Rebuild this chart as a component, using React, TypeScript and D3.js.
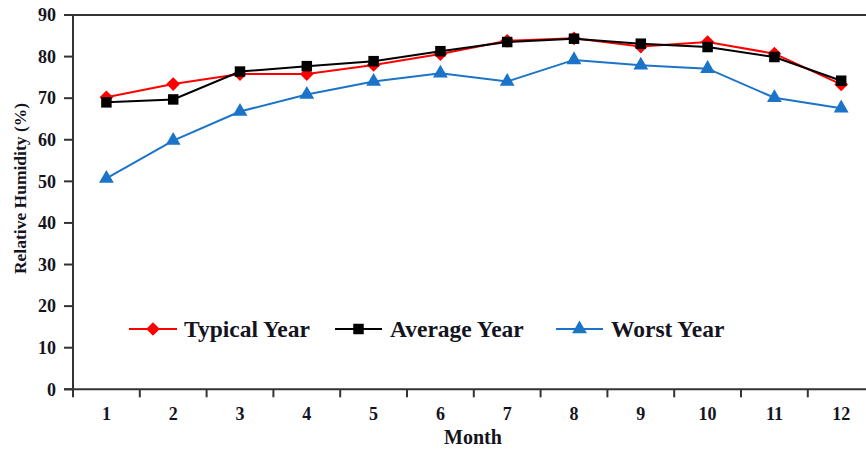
import React from "react";
import * as d3 from "d3";

const months = ["1", "2", "3", "4", "5", "6", "7", "8", "9", "10", "11", "12"];
const typicalYear = [70.2, 73.4, 75.8, 75.8, 78.0, 80.6, 83.8, 84.4, 82.4, 83.5, 80.7, 73.3];
const averageYear = [69.0, 69.7, 76.4, 77.7, 78.9, 81.3, 83.5, 84.3, 83.1, 82.3, 79.9, 74.2];
const worstYear = [50.7, 59.8, 66.8, 70.9, 74.0, 76.0, 74.0, 79.2, 77.9, 77.1, 70.1, 67.6];
const yTicks = [0, 10, 20, 30, 40, 50, 60, 70, 80, 90];
const seriesNames = ["Typical Year", "Average Year", "Worst Year"];

const W = 866;
const H = 450;
const left = 73;
const top = 15;
const bottom = 389.3;
const right = 874.6;
const font = "'Liberation Serif', 'Times New Roman', serif";
const textColor = "#14141e";
const axisColor = "#333";

export default function App() {
  const x = d3.scaleBand<string>().domain(months).range([left, right]).padding(0);
  const y = d3.scaleLinear().domain([0, 90]).range([bottom, top]);
  const cx = (m: string) => (x(m) as number) + x.bandwidth() / 2;

  const series = [
    { name: seriesNames[0], values: typicalYear, color: "#ff0000", marker: "diamond" },
    { name: seriesNames[1], values: averageYear, color: "#000000", marker: "square" },
    { name: seriesNames[2], values: worstYear, color: "#1b74c8", marker: "triangle" },
  ];

  const line = d3
    .line<number>()
    .x((_, i) => cx(months[i]))
    .y((v) => y(v));

  const symbolFor = (m: string) => {
    if (m === "diamond") return d3.symbol().type(d3.symbolDiamond2).size(120)();
    if (m === "square") return d3.symbol().type(d3.symbolSquare).size(110)();
    return d3.symbol().type(d3.symbolTriangle).size(95)();
  };

  const legendItems = [
    { lineX1: 129, lineX2: 177, textX: 184 },
    { lineX1: 335, lineX2: 382, textX: 390 },
    { lineX1: 556, lineX2: 603, textX: 611 },
  ];
  const legendY = 329;

  return (
    <svg
      width={W}
      height={H}
      style={{ position: "absolute", left: 0, top: 0, background: "#fff" }}
      fontFamily={font}
    >
      <rect x={0} y={0} width={W} height={H} fill="#fff" />
      {/* frame */}
      <line x1={left} x2={right} y1={top} y2={top} stroke={axisColor} strokeWidth={2} />
      <line x1={right} x2={right} y1={top} y2={bottom} stroke={axisColor} strokeWidth={2} />
      <line x1={left} x2={left} y1={top} y2={bottom} stroke={axisColor} strokeWidth={2} />
      <line x1={left - 9} x2={right} y1={bottom} y2={bottom} stroke={axisColor} strokeWidth={2} />

      {/* y ticks */}
      {yTicks.map((t) => (
        <g key={t}>
          <line x1={left - 9} x2={left} y1={y(t)} y2={y(t)} stroke={axisColor} strokeWidth={2} />
          <text
            x={56}
            y={y(t)}
            dy="0.35em"
            textAnchor="end"
            fontSize={18}
            fontWeight="bold"
            fill={textColor}
          >
            {t}
          </text>
        </g>
      ))}

      {/* x ticks at band boundaries */}
      {months.concat(["end"]).map((m, i) => {
        const xv = i < months.length ? (x(m) as number) : right;
        return (
          <line key={"xt" + i} x1={xv} x2={xv} y1={bottom} y2={bottom + 8} stroke={axisColor} strokeWidth={2} />
        );
      })}
      {months.map((m) => (
        <text
          key={"xl" + m}
          x={cx(m)}
          y={420}
          textAnchor="middle"
          fontSize={18}
          fontWeight="bold"
          fill={textColor}
        >
          {m}
        </text>
      ))}

      <text x={473} y={444} textAnchor="middle" fontSize={20} fontWeight="bold" fill={textColor}>
        Month
      </text>
      <text
        transform={`translate(26, 188.5) rotate(-90)`}
        textAnchor="middle"
        fontSize={17.5}
        fontWeight="bold"
        fill={textColor}
      >
        Relative Humidity (%)
      </text>

      {/* series */}
      {series.map((s) => (
        <g key={s.name}>
          <path d={line(s.values) as string} fill="none" stroke={s.color} strokeWidth={2} />
          {s.values.map((v, i) => (
            <path
              key={i}
              d={symbolFor(s.marker) as string}
              transform={`translate(${cx(months[i])},${y(v)})`}
              fill={s.color}
            />
          ))}
        </g>
      ))}

      {/* legend */}
      {series.map((s, i) => {
        const it = legendItems[i];
        return (
          <g key={"lg" + s.name}>
            <line x1={it.lineX1} x2={it.lineX2} y1={legendY} y2={legendY} stroke={s.color} strokeWidth={2} />
            <path
              d={symbolFor(s.marker) as string}
              transform={`translate(${(it.lineX1 + it.lineX2) / 2},${legendY})`}
              fill={s.color}
            />
            <text
              x={it.textX}
              y={legendY}
              dy="0.35em"
              fontSize={23.5}
              fontWeight="bold"
              fill={textColor}
            >
              {s.name}
            </text>
          </g>
        );
      })}
    </svg>
  );
}
